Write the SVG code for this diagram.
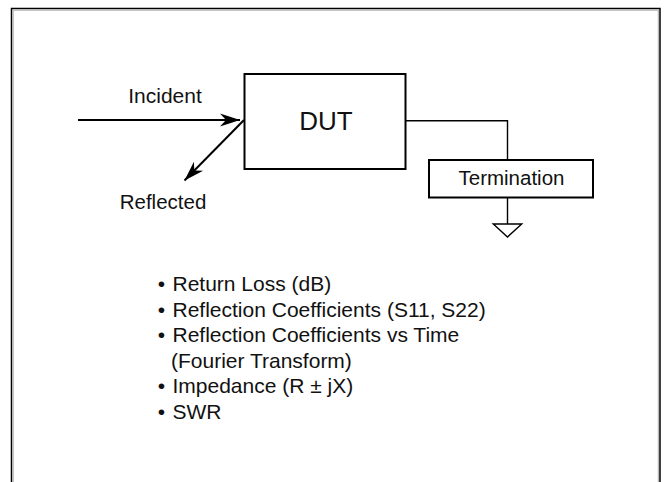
<svg xmlns="http://www.w3.org/2000/svg" width="668" height="482" viewBox="0 0 668 482">
  <defs>
    <style>
      .txt { font-family: "Liberation Sans", Arial, sans-serif; font-size: 21px; fill: #111; }
      .box { fill: #fff; stroke: #000; stroke-width: 2; }
      .wire { fill: none; stroke: #000; stroke-width: 1.4; }
      .arrow { fill: none; stroke: #000; stroke-width: 2; }
    </style>
    <marker id="barb" markerUnits="userSpaceOnUse" markerWidth="26" markerHeight="16" viewBox="-22 -8 24 16" refX="0" refY="0" orient="auto">
      <path d="M0,0 L-20,-6.5 L-14,0 L-20,6.5 Z" fill="#000"/>
    </marker>
  </defs>
  <rect width="668" height="482" fill="#fff"/>
  <g id="frame">
    <path d="M11.5,490 V8.5 H660 V490" fill="none" stroke="#000" stroke-width="1.5"/>
    <path d="M13.2,490 V10.2 H658.3 V490" fill="none" stroke="#aaa" stroke-width="1"/>
  </g>
  <g id="connectors">
    <path class="arrow" d="M78,120 H240" marker-end="url(#barb)"/>
    <path class="arrow" d="M244,120 L184.5,180.5" marker-end="url(#barb)"/>
    <path class="wire" d="M405.5,120.7 H507.5 V160"/>
    <path class="wire" d="M507.5,197.5 V224"/>
  </g>
  <g id="dut">
    <rect class="box" x="244.5" y="74" width="161" height="95"/>
    <text class="txt" x="326" y="130" text-anchor="middle" style="font-size:26px">DUT</text>
  </g>
  <g id="termination">
    <rect class="box" x="429" y="160" width="164" height="37.5"/>
    <text class="txt" x="511.5" y="185" text-anchor="middle" style="font-size:20.5px">Termination</text>
  </g>
  <g id="ground">
    <path class="wire" d="M493.3,224 H521.7 L507.5,237 Z"/>
  </g>
  <g id="labels">
    <text class="txt" x="165" y="103.3" text-anchor="middle">Incident</text>
    <text class="txt" x="163" y="209" text-anchor="middle" style="font-size:20.5px">Reflected</text>
  </g>
  <g id="list">
    <text class="txt" x="161.5" y="291" text-anchor="middle">•</text>
    <text class="txt" x="172.5" y="291">Return Loss (dB)</text>
    <text class="txt" x="161.5" y="316.5" text-anchor="middle">•</text>
    <text class="txt" x="172.5" y="316.5">Reflection Coefficients (S11, S22)</text>
    <text class="txt" x="161.5" y="342" text-anchor="middle">•</text>
    <text class="txt" x="172.5" y="342">Reflection Coefficients vs Time</text>
    <text class="txt" x="171" y="367.5">(Fourier Transform)</text>
    <text class="txt" x="161.5" y="393" text-anchor="middle">•</text>
    <text class="txt" x="172.5" y="393">Impedance (R ± jX)</text>
    <text class="txt" x="161.5" y="418.5" text-anchor="middle">•</text>
    <text class="txt" x="172.5" y="418.5">SWR</text>
  </g>
</svg>
